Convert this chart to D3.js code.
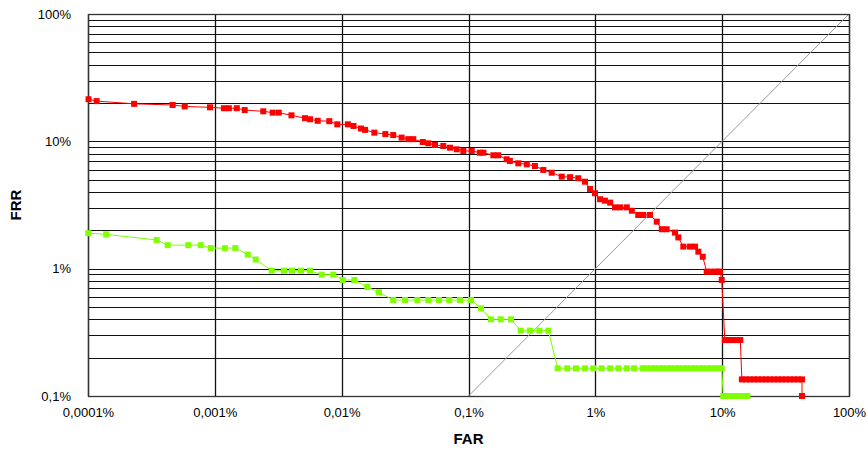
<!DOCTYPE html>
<html>
<head>
<meta charset="utf-8">
<script src="https://cdn.jsdelivr.net/npm/d3@7/dist/d3.min.js"></script>
<style>
  html, body { margin: 0; padding: 0; background: #fff; }
  svg { display: block; }
  .tick text { font-family: "Liberation Sans", Arial, sans-serif; font-size: 13px; fill: #000; }
  .title { font-family: "Liberation Sans", Arial, sans-serif; font-size: 15px; font-weight: bold; fill: #000; }
</style>
</head>
<body>
<svg id="chart" width="867" height="454"></svg>
<script>
// Axis ticks (values in percent) and their labels
const farTicks = [0.0001, 0.001, 0.01, 0.1, 1, 10, 100];
const farLabels = ["0,0001%", "0,001%", "0,01%", "0,1%", "1%", "10%", "100%"];
const frrTicks = [0.1, 1, 10, 100];
const frrLabels = ["0,1%", "1%", "10%", "100%"];

// Series A (red): FAR % and FRR %
const redFar = [
  0.000101, 0.000117, 0.000231, 0.000465, 0.000579, 0.000916, 0.00118, 0.00129, 0.00149, 0.00172,
  0.00241, 0.00286, 0.00319, 0.00402, 0.00514, 0.00563, 0.00647, 0.00799, 0.00924, 0.0112,
  0.0124, 0.0142, 0.0153, 0.0181, 0.0221, 0.0255, 0.0297, 0.0335, 0.0367, 0.0436,
  0.0482, 0.0544, 0.0633, 0.0715, 0.0807, 0.091, 0.106, 0.123, 0.131, 0.157,
  0.172, 0.200, 0.212, 0.247, 0.288, 0.334, 0.389, 0.453, 0.543, 0.632,
  0.734, 0.829, 0.908, 0.994, 1.09, 1.19, 1.31, 1.43, 1.57, 1.77,
  1.94, 2.18, 2.39, 2.70, 3.05, 3.34, 3.65, 4.25, 4.51, 4.94,
  5.58, 6.11, 6.49, 7.03, 7.55, 8.1, 8.7, 9.3, 9.62, 9.92,
  10.5, 11.3, 12.2, 13.0, 13.9, 14.3, 15.4, 16.5, 17.8, 19.1,
  20.6, 22.1, 23.8, 25.6, 27.5, 29.6, 31.8, 34.2, 36.8, 39.6,
  42.6, 42.6
];
const redFrr = [
  21.4, 20.7, 19.7, 19.3, 18.8, 18.5, 18.2, 18.2, 18.2, 17.6,
  17.2, 16.8, 16.8, 16.0, 15.2, 14.9, 14.5, 14.4, 13.6, 13.6,
  13.2, 12.6, 12.3, 11.7, 11.4, 11.2, 10.7, 10.4, 10.4, 9.88,
  9.65, 9.36, 9.19, 8.91, 8.66, 8.40, 8.40, 8.14, 8.14, 7.77,
  7.77, 7.23, 7.01, 6.72, 6.60, 6.40, 5.96, 5.67, 5.28, 5.23,
  5.13, 4.82, 4.22, 3.91, 3.51, 3.42, 3.30, 3.03, 3.03, 3.03,
  2.85, 2.64, 2.64, 2.64, 2.34, 2.04, 2.04, 1.92, 1.76, 1.49,
  1.49, 1.49, 1.36, 1.24, 0.947, 0.947, 0.947, 0.947, 0.947, 0.815,
  0.275, 0.275, 0.275, 0.275, 0.275, 0.135, 0.135, 0.135, 0.135, 0.135,
  0.135, 0.135, 0.135, 0.135, 0.135, 0.135, 0.135, 0.135, 0.135, 0.135,
  0.135, 0.1
];

// Series B (green): FAR % and FRR %
const greenFar = [
  0.0001005, 0.000139, 0.000348, 0.000425, 0.000618, 0.000774, 0.000928, 0.00120, 0.00145, 0.00182,
  0.00210, 0.00281, 0.00351, 0.00406, 0.00478, 0.00563, 0.00696, 0.00859, 0.0102, 0.0126,
  0.0159, 0.0197, 0.0255, 0.0316, 0.0395, 0.0482, 0.0585, 0.0706, 0.0857, 0.1047,
  0.1255, 0.1505, 0.1795, 0.2164, 0.258, 0.305, 0.362, 0.426, 0.505, 0.601,
  0.704, 0.829, 0.964, 1.12, 1.31, 1.52, 1.77, 2.02, 2.36, 2.54,
  2.75, 2.95, 3.18, 3.42, 3.67, 3.95, 4.25, 4.57, 4.91, 5.28,
  5.68, 6.11, 6.57, 7.06, 7.60, 8.17, 8.78, 9.44, 9.92, 10.2,
  10.9, 11.7, 12.6, 13.6, 14.6, 15.8
];
const greenFrr = [
  1.90, 1.86, 1.68, 1.53, 1.53, 1.53, 1.45, 1.45, 1.45, 1.29,
  1.18, 0.964, 0.964, 0.964, 0.964, 0.964, 0.897, 0.897, 0.815, 0.815,
  0.718, 0.652, 0.567, 0.567, 0.567, 0.567, 0.567, 0.567, 0.567, 0.567,
  0.488, 0.400, 0.400, 0.400, 0.326, 0.326, 0.326, 0.326, 0.165, 0.165,
  0.165, 0.165, 0.165, 0.165, 0.165, 0.165, 0.165, 0.165, 0.165, 0.165,
  0.165, 0.165, 0.165, 0.165, 0.165, 0.165, 0.165, 0.165, 0.165, 0.165,
  0.165, 0.165, 0.165, 0.165, 0.165, 0.165, 0.165, 0.165, 0.165, 0.1,
  0.1, 0.1, 0.1, 0.1, 0.1, 0.1
];

// Equal error reference line FRR = FAR
const eerLine = [0.1, 100];

const series = [
  { color: "#ff0000", far: redFar, frr: redFrr },
  { color: "#80ff00", far: greenFar, frr: greenFrr }
];

const svg = d3.select("#chart");
const plot = { left: 88, right: 849, top: 14, bottom: 396 };

const x = d3.scaleLog().domain([farTicks[0], farTicks[farTicks.length - 1]]).range([plot.left, plot.right]);
const y = d3.scaleLog().domain([frrTicks[0], frrTicks[frrTicks.length - 1]]).range([plot.bottom, plot.top]);

const snap = v => Math.round(v) + 0.5;

// Horizontal grid: every integer multiple within each decade
const hGrid = [];
for (let d = 0; d < frrTicks.length - 1; d++) {
  for (let k = 1; k <= 9; k++) hGrid.push(frrTicks[d] * k);
}
hGrid.push(frrTicks[frrTicks.length - 1]);

const grid = svg.append("g").attr("class", "grid");
grid.selectAll("line.h").data(hGrid).join("line")
  .attr("class", "h")
  .attr("x1", plot.left).attr("x2", plot.right)
  .attr("y1", d => snap(y(d))).attr("y2", d => snap(y(d)))
  .attr("stroke", "#111").attr("stroke-width", 1);

grid.selectAll("line.v").data(farTicks).join("line")
  .attr("class", "v")
  .attr("y1", plot.top).attr("y2", plot.bottom)
  .attr("x1", d => snap(x(d))).attr("x2", d => snap(x(d)))
  .attr("stroke", "#111").attr("stroke-width", 1.3);

// Diagonal FRR = FAR
svg.append("line")
  .attr("x1", x(eerLine[0])).attr("y1", y(eerLine[0]))
  .attr("x2", x(eerLine[1])).attr("y2", y(eerLine[1]))
  .attr("stroke", "#999").attr("stroke-width", 1);

// Frame
svg.append("rect")
  .attr("x", snap(plot.left)).attr("y", snap(plot.top))
  .attr("width", Math.round(plot.right - plot.left)).attr("height", Math.round(plot.bottom - plot.top))
  .attr("fill", "none").attr("stroke", "#333").attr("stroke-width", 1.3);

// Axes
const xAxis = d3.axisBottom(x).tickValues(farTicks)
  .tickFormat((d, i) => farLabels[i]).tickSize(0).tickPadding(12);
svg.append("g").attr("transform", `translate(0,${plot.bottom})`).call(xAxis)
  .call(g => g.select(".domain").remove());

const yAxis = d3.axisLeft(y).tickValues(frrTicks)
  .tickFormat((d, i) => frrLabels[i]).tickSize(0).tickPadding(17);
svg.append("g").attr("transform", `translate(${plot.left},0)`).call(yAxis)
  .call(g => g.select(".domain").remove());

// Series lines and square markers
const size = 6;
series.forEach(s => {
  const pts = s.far.map((f, i) => [f, s.frr[i]]);
  svg.append("path")
    .datum(pts)
    .attr("fill", "none")
    .attr("stroke", s.color)
    .attr("stroke-width", 1)
    .attr("d", d3.line().x(d => x(d[0])).y(d => y(d[1])));
  svg.append("g").selectAll("rect").data(pts).join("rect")
    .attr("x", d => x(d[0]) - size / 2)
    .attr("y", d => y(d[1]) - size / 2)
    .attr("width", size).attr("height", size)
    .attr("fill", s.color);
});

// Axis titles
svg.append("text").attr("class", "title")
  .attr("x", (plot.left + plot.right) / 2).attr("y", 444)
  .attr("text-anchor", "middle").text("FAR");
svg.append("text").attr("class", "title")
  .attr("transform", `translate(21,${(plot.top + plot.bottom) / 2}) rotate(-90)`)
  .attr("text-anchor", "middle").text("FRR");
</script>
</body>
</html>
